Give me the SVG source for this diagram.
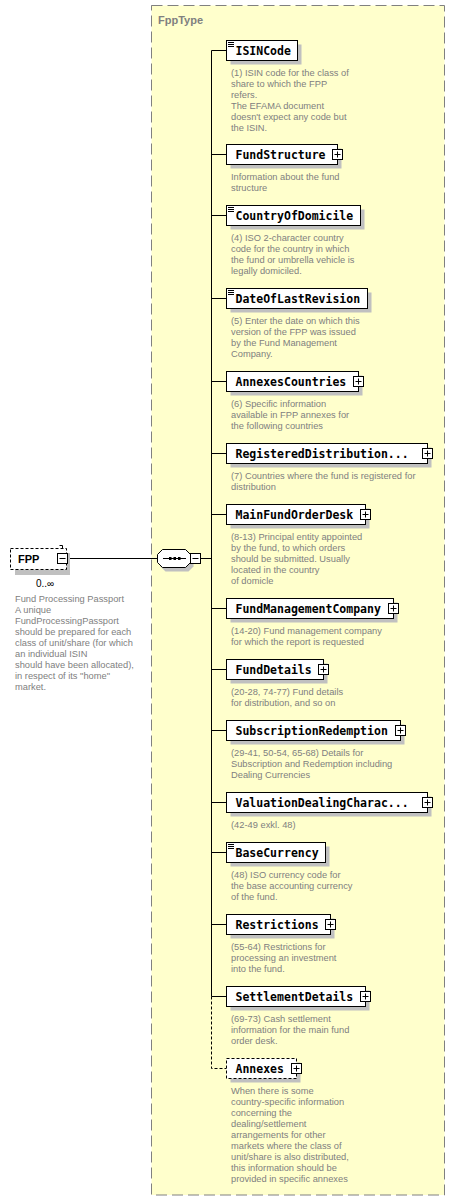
<svg xmlns="http://www.w3.org/2000/svg" xmlns:xlink="http://www.w3.org/1999/xlink" width="456" height="1201" viewBox="0 0 456 1201">
<style>
.bg{fill:#fff}
.type{fill:#ffffcc;stroke:#808080;stroke-width:1;stroke-dasharray:11,5}
.typelbl{font-family:"Liberation Sans",Arial,sans-serif;font-weight:bold;font-size:11px;fill:#808080}
.box{fill:#fff;stroke:#000;stroke-width:1}
.dbox{fill:#fff;stroke:#000;stroke-width:1;stroke-dasharray:3,2}
.sh{fill:#c0c0c0}
.lbl{font-family:"DejaVu Sans Mono","Liberation Mono",monospace;font-weight:bold;font-size:11.5px;fill:#000}
.desc{font-family:"Liberation Sans",Arial,sans-serif;font-size:9.3px;fill:#808080}
.ln{stroke:#000;stroke-width:1;fill:none}
.dln{stroke:#000;stroke-width:1;fill:none;stroke-dasharray:3,2}
.ic{stroke:#000;stroke-width:1;fill:none}
</style>
<defs>
<g id="plus"><rect x="0" y="0" width="10" height="10" fill="#fff" stroke="#000"/><path d="M2,5H8M5,2V8" stroke="#000" fill="none"/></g>
<g id="minus"><rect x="0" y="0" width="10" height="10" fill="#fff" stroke="#000"/><path d="M2,5H8" stroke="#000" fill="none"/></g>
</defs>
<rect class="bg" x="0" y="0" width="456" height="1201"/>
<g id="FppType">
<rect class="type" x="151.5" y="5.5" width="293" height="1189.5"/>
<text class="typelbl" x="158" y="24">FppType</text>
</g>
<g id="connectors">
<path class="ln" d="M67.5,558.5H157.5"/>
<path class="ln" d="M200.5,558.5H211.5"/>
<path class="ln" d="M211.5,50.5V996.5"/>
<path class="dln" d="M211.5,996.5V1068.5H226.5"/>
<path class="ln" d="M211.5,50.5H226.5M211.5,154.5H226.5M211.5,215.5H226.5M211.5,298.5H226.5M211.5,381.5H226.5M211.5,453.5H226.5M211.5,514.5H226.5M211.5,608.5H226.5M211.5,669.5H226.5M211.5,730.5H226.5M211.5,802.5H226.5M211.5,852.5H226.5M211.5,924.5H226.5M211.5,996.5H226.5"/>
</g>
<g id="FPP">
<rect class="sh" x="15" y="553" width="55" height="22"/>
<rect class="dbox" x="10.5" y="548.5" width="56" height="21"/>
<path class="ln" d="M59.5,545.5H62.5V548"/>
<text x="18" y="562.5" font-family="Liberation Sans,Arial,sans-serif" font-weight="bold" font-size="11px" fill="#000">FPP</text>
<use xlink:href="#minus" x="57.5" y="553.5"/>
<text x="36" y="586.5" font-family="Liberation Sans,Arial,sans-serif" font-size="10px" fill="#000">0..∞</text>
<text class="desc" x="15" y="602"><tspan x="15" dy="0">Fund Processing Passport</tspan><tspan x="15" dy="11">A unique</tspan><tspan x="15" dy="11">FundProcessingPassport</tspan><tspan x="15" dy="11">should be prepared for each</tspan><tspan x="15" dy="11">class of unit/share (for which</tspan><tspan x="15" dy="11">an individual ISIN</tspan><tspan x="15" dy="11">should have been allocated),</tspan><tspan x="15" dy="11">in respect of its "home"</tspan><tspan x="15" dy="11">market.</tspan></text>
</g>
<g id="sequence">
<path class="sh" d="M165.5,553.5H188.5L193.5,558.5V566.5L188.5,571.5H165.5L160.5,566.5V558.5Z"/>
<path d="M162.5,549.5H185.5L190.5,554.5V562.5L185.5,567.5H162.5L157.5,562.5V554.5Z" fill="#fff" stroke="#000"/>
<path class="ln" d="M163,558.5H186"/>
<rect x="169" y="557" width="2.5" height="3" fill="#000"/>
<rect x="173.5" y="557" width="2.5" height="3" fill="#000"/>
<rect x="178" y="557" width="2.5" height="3" fill="#000"/>
<use xlink:href="#minus" x="190.5" y="553.5"/>
</g>
<g id="ISINCode">
<rect class="sh" x="230.5" y="44.5" width="71" height="20"/>
<rect class="box" x="226.5" y="40.5" width="71" height="20"/>
<path class="ic" d="M228,42.5H234M228,44.5H234M228,46.5H234"/>
<text class="lbl" x="235.5" y="55">ISINCode</text>
<text class="desc" x="231" y="75.5"><tspan x="231" dy="0">(1) ISIN code for the class of</tspan><tspan x="231" dy="11">share to which the FPP</tspan><tspan x="231" dy="11">refers.</tspan><tspan x="231" dy="11">The EFAMA document</tspan><tspan x="231" dy="11">doesn't expect any code but</tspan><tspan x="231" dy="11">the ISIN.</tspan></text>
</g>
<g id="FundStructure">
<rect class="sh" x="230.5" y="148.5" width="111" height="20"/>
<rect class="box" x="226.5" y="144.5" width="111" height="20"/>
<text class="lbl" x="235.5" y="159">FundStructure</text>
<use xlink:href="#plus" x="332.5" y="149.5"/>
<text class="desc" x="231" y="179.5"><tspan x="231" dy="0">Information about the fund</tspan><tspan x="231" dy="11">structure</tspan></text>
</g>
<g id="CountryOfDomicile">
<rect class="sh" x="230.5" y="209.5" width="134" height="20"/>
<rect class="box" x="226.5" y="205.5" width="134" height="20"/>
<path class="ic" d="M228,207.5H234M228,209.5H234M228,211.5H234"/>
<text class="lbl" x="235.5" y="220">CountryOfDomicile</text>
<text class="desc" x="231" y="240.5"><tspan x="231" dy="0">(4) ISO 2-character country</tspan><tspan x="231" dy="11">code for the country in which</tspan><tspan x="231" dy="11">the fund or umbrella vehicle is</tspan><tspan x="231" dy="11">legally domiciled.</tspan></text>
</g>
<g id="DateOfLastRevision">
<rect class="sh" x="230.5" y="292.5" width="141" height="20"/>
<rect class="box" x="226.5" y="288.5" width="141" height="20"/>
<path class="ic" d="M228,290.5H234M228,292.5H234M228,294.5H234"/>
<text class="lbl" x="235.5" y="303">DateOfLastRevision</text>
<text class="desc" x="231" y="323.5"><tspan x="231" dy="0">(5) Enter the date on which this</tspan><tspan x="231" dy="11">version of the FPP was issued</tspan><tspan x="231" dy="11">by the Fund Management</tspan><tspan x="231" dy="11">Company.</tspan></text>
</g>
<g id="AnnexesCountries">
<rect class="sh" x="230.5" y="375.5" width="132" height="20"/>
<rect class="box" x="226.5" y="371.5" width="132" height="20"/>
<text class="lbl" x="235.5" y="386">AnnexesCountries</text>
<use xlink:href="#plus" x="353.5" y="376.5"/>
<text class="desc" x="231" y="406.5"><tspan x="231" dy="0">(6) Specific information</tspan><tspan x="231" dy="11">available in FPP annexes for</tspan><tspan x="231" dy="11">the following countries</tspan></text>
</g>
<g id="RegisteredDistribution">
<rect class="sh" x="230.5" y="447.5" width="201" height="20"/>
<rect class="box" x="226.5" y="443.5" width="201" height="20"/>
<text class="lbl" x="235.5" y="458">RegisteredDistribution...</text>
<use xlink:href="#plus" x="422.5" y="448.5"/>
<text class="desc" x="231" y="478.5"><tspan x="231" dy="0">(7) Countries where the fund is registered for</tspan><tspan x="231" dy="11">distribution</tspan></text>
</g>
<g id="MainFundOrderDesk">
<rect class="sh" x="230.5" y="508.5" width="139" height="20"/>
<rect class="box" x="226.5" y="504.5" width="139" height="20"/>
<text class="lbl" x="235.5" y="519">MainFundOrderDesk</text>
<use xlink:href="#plus" x="360.5" y="509.5"/>
<text class="desc" x="231" y="539.5"><tspan x="231" dy="0">(8-13) Principal entity appointed</tspan><tspan x="231" dy="11">by the fund, to which orders</tspan><tspan x="231" dy="11">should be submitted. Usually</tspan><tspan x="231" dy="11">located in the country</tspan><tspan x="231" dy="11">of domicle</tspan></text>
</g>
<g id="FundManagementCompany">
<rect class="sh" x="230.5" y="602.5" width="167" height="20"/>
<rect class="box" x="226.5" y="598.5" width="167" height="20"/>
<text class="lbl" x="235.5" y="613">FundManagementCompany</text>
<use xlink:href="#plus" x="388.5" y="603.5"/>
<text class="desc" x="231" y="633.5"><tspan x="231" dy="0">(14-20) Fund management company</tspan><tspan x="231" dy="11">for which the report is requested</tspan></text>
</g>
<g id="FundDetails">
<rect class="sh" x="230.5" y="663.5" width="97" height="20"/>
<rect class="box" x="226.5" y="659.5" width="97" height="20"/>
<text class="lbl" x="235.5" y="674">FundDetails</text>
<use xlink:href="#plus" x="318.5" y="664.5"/>
<text class="desc" x="231" y="694.5"><tspan x="231" dy="0">(20-28, 74-77) Fund details</tspan><tspan x="231" dy="11">for distribution, and so on</tspan></text>
</g>
<g id="SubscriptionRedemption">
<rect class="sh" x="230.5" y="724.5" width="174" height="20"/>
<rect class="box" x="226.5" y="720.5" width="174" height="20"/>
<text class="lbl" x="235.5" y="735">SubscriptionRedemption</text>
<use xlink:href="#plus" x="395.5" y="725.5"/>
<text class="desc" x="231" y="755.5"><tspan x="231" dy="0">(29-41, 50-54, 65-68) Details for</tspan><tspan x="231" dy="11">Subscription and Redemption including</tspan><tspan x="231" dy="11">Dealing Currencies</tspan></text>
</g>
<g id="ValuationDealingCharac">
<rect class="sh" x="230.5" y="796.5" width="201" height="20"/>
<rect class="box" x="226.5" y="792.5" width="201" height="20"/>
<text class="lbl" x="235.5" y="807">ValuationDealingCharac...</text>
<use xlink:href="#plus" x="422.5" y="797.5"/>
<text class="desc" x="231" y="827.5">(42-49 exkl. 48)</text>
</g>
<g id="BaseCurrency">
<rect class="sh" x="230.5" y="846.5" width="99" height="20"/>
<rect class="box" x="226.5" y="842.5" width="99" height="20"/>
<path class="ic" d="M228,844.5H234M228,846.5H234M228,848.5H234"/>
<text class="lbl" x="235.5" y="857">BaseCurrency</text>
<text class="desc" x="231" y="877.5"><tspan x="231" dy="0">(48) ISO currency code for</tspan><tspan x="231" dy="11">the base accounting currency</tspan><tspan x="231" dy="11">of the fund.</tspan></text>
</g>
<g id="Restrictions">
<rect class="sh" x="230.5" y="918.5" width="104" height="20"/>
<rect class="box" x="226.5" y="914.5" width="104" height="20"/>
<text class="lbl" x="235.5" y="929">Restrictions</text>
<use xlink:href="#plus" x="325.5" y="919.5"/>
<text class="desc" x="231" y="949.5"><tspan x="231" dy="0">(55-64) Restrictions for</tspan><tspan x="231" dy="11">processing an investment</tspan><tspan x="231" dy="11">into the fund.</tspan></text>
</g>
<g id="SettlementDetails">
<rect class="sh" x="230.5" y="990.5" width="139" height="20"/>
<rect class="box" x="226.5" y="986.5" width="139" height="20"/>
<text class="lbl" x="235.5" y="1001">SettlementDetails</text>
<use xlink:href="#plus" x="360.5" y="991.5"/>
<text class="desc" x="231" y="1021.5"><tspan x="231" dy="0">(69-73) Cash settlement</tspan><tspan x="231" dy="11">information for the main fund</tspan><tspan x="231" dy="11">order desk.</tspan></text>
</g>
<g id="Annexes">
<rect class="sh" x="230.5" y="1062.5" width="70" height="20"/>
<rect class="dbox" x="226.5" y="1058.5" width="70" height="20"/>
<text class="lbl" x="235.5" y="1073">Annexes</text>
<use xlink:href="#plus" x="291.5" y="1063.5"/>
<text class="desc" x="231" y="1093.5"><tspan x="231" dy="0">When there is some</tspan><tspan x="231" dy="11">country-specific information</tspan><tspan x="231" dy="11">concerning the</tspan><tspan x="231" dy="11">dealing/settlement</tspan><tspan x="231" dy="11">arrangements for other</tspan><tspan x="231" dy="11">markets where the class of</tspan><tspan x="231" dy="11">unit/share is also distributed,</tspan><tspan x="231" dy="11">this information should be</tspan><tspan x="231" dy="11">provided in specific annexes</tspan></text>
</g>
</svg>
